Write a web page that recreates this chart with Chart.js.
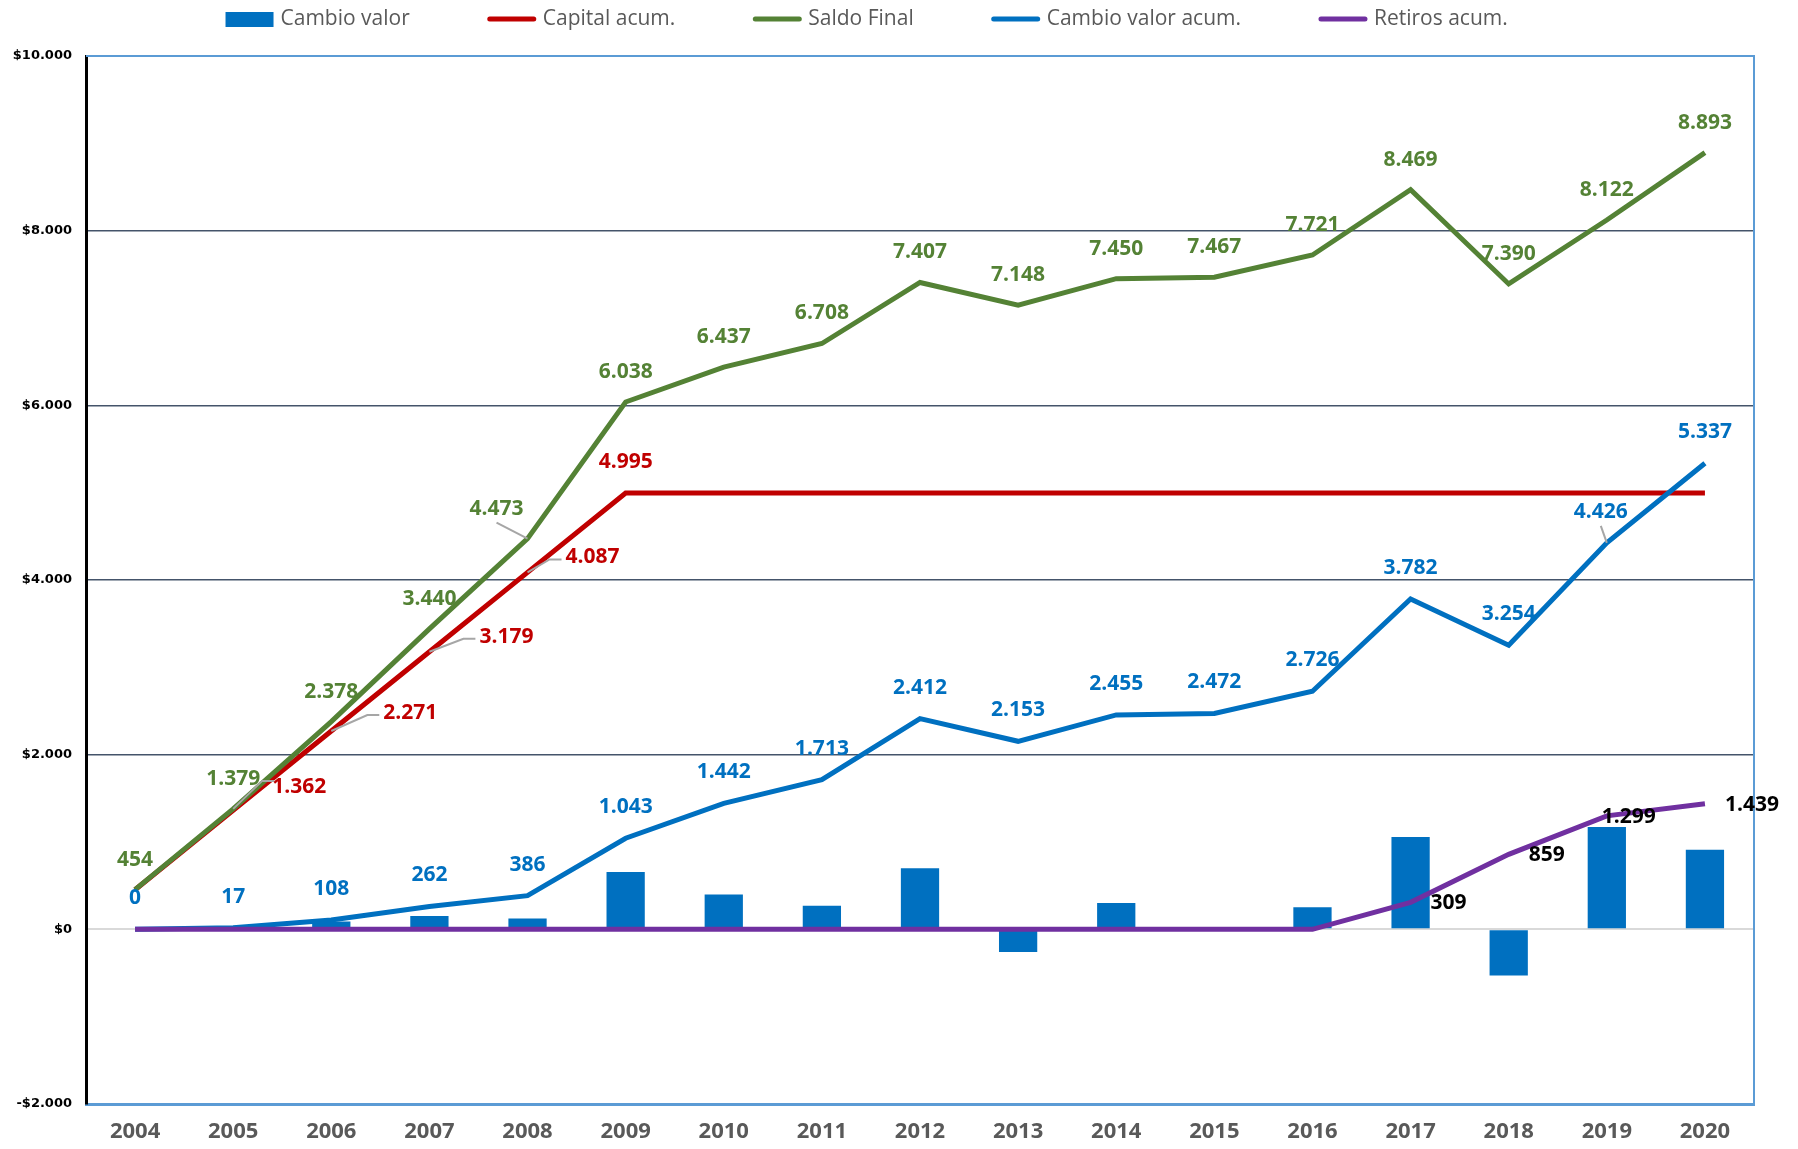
<!DOCTYPE html>
<html>
<head>
<meta charset="utf-8">
<script src="https://cdn.jsdelivr.net/npm/chart.js@4.4.1/dist/chart.umd.min.js"></script>
<style>
  body { margin: 0; background: #fff; }
  #grafico { display: block; }
</style>
</head>
<body>
<canvas id="grafico" width="1798" height="1149"></canvas>
<script>
const anios = ['2004', '2005', '2006', '2007', '2008', '2009', '2010', '2011', '2012',
               '2013', '2014', '2015', '2016', '2017', '2018', '2019', '2020'];

const cambioValor     = [0, 17, 91, 154, 124, 657, 399, 271, 699, -259, 302, 17, 254, 1056, -528, 1172, 911];
const capitalAcum     = [454, 1362, 2271, 3179, 4087, 4995, 4995, 4995, 4995, 4995, 4995, 4995, 4995, 4995, 4995, 4995, 4995];
const saldoFinal      = [454, 1379, 2378, 3440, 4473, 6038, 6437, 6708, 7407, 7148, 7450, 7467, 7721, 8469, 7390, 8122, 8893];
const cambioValorAcum = [0, 17, 108, 262, 386, 1043, 1442, 1713, 2412, 2153, 2455, 2472, 2726, 3782, 3254, 4426, 5337];
const retirosAcum     = [0, 0, 0, 0, 0, 0, 0, 0, 0, 0, 0, 0, 0, 309, 859, 1299, 1439];

const yMin = -2000, yMax = 10000, yPaso = 2000;

function fmt(v) {
  const s = Math.abs(Math.round(v)).toString().replace(/\B(?=(\d{3})+(?!\d))/g, '.');
  return (v < 0 ? '-' : '') + s;
}

// etiquetas de datos (no hay plugin de datalabels, se dibujan a mano)
const etiquetas = {
  id: 'etiquetas',
  afterDatasetsDraw(chart) {
    const ctx = chart.ctx;
    ctx.save();
    ctx.font = 'bold 21px "Open Sans"';
    ctx.textBaseline = 'middle';
    chart.data.datasets.forEach((ds, i) => {
      const cfg = ds.etiqueta;
      if (!cfg) return;
      const meta = chart.getDatasetMeta(i);
      meta.data.forEach((pt, j) => {
        if (j < cfg.desde || j > cfg.hasta) return;
        const aj = (cfg.ajustes && cfg.ajustes[j]) || {};
        const dx = aj.dx ?? cfg.dx;
        const dy = aj.dy ?? cfg.dy;
        const align = aj.align ?? cfg.align;
        const texto = fmt(ds.data[j]);
        const lx = pt.x + dx, ly = pt.y + dy;
        const w = ctx.measureText(texto).width;
        // lineas guia grises como las de Excel
        if (aj.guia) {
          ctx.strokeStyle = '#a6a6a6';
          ctx.lineWidth = 2;
          ctx.beginPath();
          ctx.moveTo(pt.x, pt.y);
          if (aj.guia === 'izq') {
            ctx.lineTo(lx - 16, ly + 2);
            ctx.lineTo(lx - 4, ly + 2);
          } else if (aj.guia === 'der') {
            const xr = align === 'center' ? lx + w / 2 : lx + w;
            ctx.lineTo(xr + 2, ly + 2);
            ctx.lineTo(xr + 14, ly + 2);
          } else {
            ctx.lineTo(lx, ly + 14);
          }
          ctx.stroke();
        }
        ctx.textAlign = align;
        ctx.fillStyle = cfg.color;
        ctx.fillText(texto, lx, ly);
      });
    });
    ctx.restore();
  }
};

// borde azul arriba y a la derecha del area de trazado
const borde = {
  id: 'borde',
  beforeDatasetsDraw(chart) {
    const { ctx, chartArea: a } = chart;
    ctx.save();
    ctx.strokeStyle = '#5b9bd5';
    ctx.lineWidth = 2;
    ctx.beginPath();
    ctx.moveTo(a.left, a.top);
    ctx.lineTo(a.right, a.top);
    ctx.lineTo(a.right, a.bottom);
    ctx.stroke();
    ctx.restore();
  }
};

// leyenda propia para poder separar los elementos como en Excel
const leyenda = {
  id: 'leyenda',
  afterDraw(chart) {
    const ctx = chart.ctx;
    ctx.save();
    ctx.font = '21px "Open Sans"';
    ctx.textBaseline = 'middle';
    ctx.textAlign = 'left';
    const items = chart.data.datasets.map(ds => ({
      texto: ds.label, color: ds.type === 'bar' ? ds.backgroundColor : ds.borderColor, barra: ds.type === 'bar'
    }));
    const anchoCaja = 48, sep = 7, hueco = 78;
    const anchos = items.map(it => anchoCaja + sep + ctx.measureText(it.texto).width);
    const total = anchos.reduce((a, b) => a + b, 0) + hueco * (items.length - 1);
    let x = chart.width * 0.482 - total / 2;
    const y = 19;
    items.forEach((it, k) => {
      if (it.barra) {
        ctx.fillStyle = it.color;
        ctx.fillRect(x, y - 7, anchoCaja, 15);
      } else {
        ctx.strokeStyle = it.color;
        ctx.lineWidth = 5;
        ctx.lineCap = 'round';
        ctx.beginPath();
        ctx.moveTo(x + 2, y);
        ctx.lineTo(x + anchoCaja - 2, y);
        ctx.stroke();
      }
      ctx.fillStyle = '#595959';
      ctx.fillText(it.texto, x + anchoCaja + sep, y);
      x += anchos[k] + hueco;
    });
    ctx.restore();
  }
};

const linea = (label, data, color, orden, etiqueta) => ({
  type: 'line',
  label: label,
  data: data,
  borderColor: color,
  backgroundColor: color,
  borderWidth: 5,
  pointRadius: 0,
  tension: 0,
  order: orden,
  etiqueta: etiqueta
});

const ctx = document.getElementById('grafico').getContext('2d');
new Chart(ctx, {
  data: {
    labels: anios,
    datasets: [
      {
        type: 'bar',
        label: 'Cambio valor',
        data: cambioValor,
        backgroundColor: '#0070c0',
        barPercentage: 0.39,
        categoryPercentage: 1,
        order: 10
      },
      linea('Capital acum.', capitalAcum, '#c00000', 4, {
        color: '#c00000', desde: 1, hasta: 5, dx: 46, dy: -18, align: 'left',
        ajustes: { 1: { dx: 39, dy: -23 }, 2: { dx: 52, guia: 'izq' }, 3: { dx: 50, dy: -15, guia: 'izq' },
                   4: { dx: 38, dy: -15, guia: 'izq' }, 5: { dx: 0, dy: -31, align: 'center' } }
      }),
      linea('Saldo Final', saldoFinal, '#548235', 2, {
        color: '#548235', desde: 0, hasta: 16, dx: 0, dy: -30, align: 'center',
        ajustes: { 1: { guia: 'der' }, 4: { dx: -31, guia: 'abajo' } }
      }),
      linea('Cambio valor acum.', cambioValorAcum, '#0070c0', 3, {
        color: '#0070c0', desde: 0, hasta: 16, dx: 0, dy: -31, align: 'center',
        ajustes: { 15: { dx: -6, guia: 'abajo' } }
      }),
      linea('Retiros acum.', retirosAcum, '#7030a0', 1, {
        color: '#000000', desde: 13, hasta: 16, dx: 20, dy: 1, align: 'left',
        ajustes: { 15: { dx: -5 } }
      })
    ]
  },
  options: {
    responsive: false,
    animation: false,
    devicePixelRatio: 1,
    layout: { padding: { top: 56, right: 44, bottom: 0, left: 0 } },
    plugins: {
      legend: { display: false },
      tooltip: { enabled: false }
    },
    scales: {
      x: {
        grid: { display: false, drawTicks: false },
        border: { display: true, color: '#5b9bd5', width: 3 },
        ticks: {
          color: '#595959',
          padding: 15,
          font: { family: '"Open Sans", sans-serif', size: 22, weight: 'bold' }
        },
        afterFit(scale) { scale.height = 45; }
      },
      y: {
        min: yMin,
        max: yMax,
        ticks: {
          stepSize: yPaso,
          color: '#000',
          padding: 14,
          font: { family: '"DejaVu Sans"', size: 13, weight: 'bold' },
          callback: v => (v < 0 ? '-$' : '$') + fmt(Math.abs(v))
        },
        grid: {
          drawTicks: false,
          lineWidth: ctx => ctx.tick && ctx.tick.value === 0 ? 2 : 1.5,
          color: ctx => {
            const v = ctx.tick && ctx.tick.value;
            if (v === 0) return '#d9d9d9';
            if (v === yMin || v === yMax) return 'rgba(0,0,0,0)';
            return '#44546a';
          }
        },
        border: { display: true, color: '#000', width: 3 },
        afterFit(scale) { scale.width = 86; }
      }
    }
  },
  plugins: [borde, etiquetas, leyenda]
});
</script>
</body>
</html>
